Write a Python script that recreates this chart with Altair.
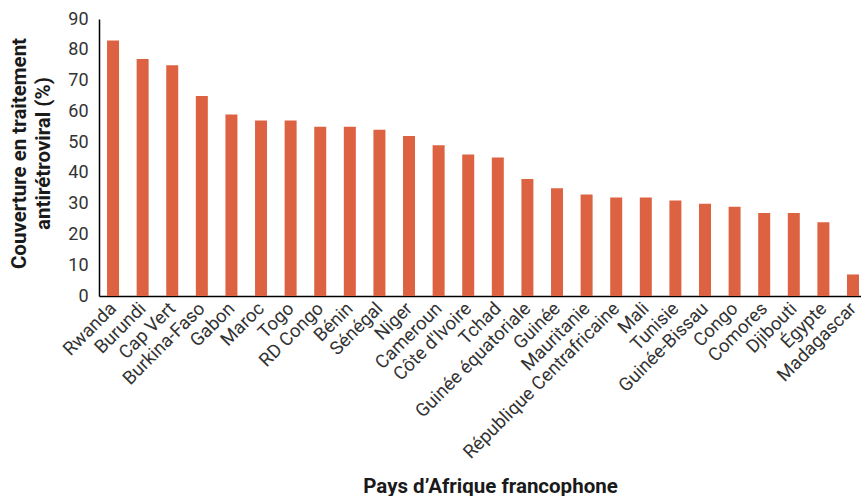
import altair as alt
import pandas as pd

# Antiretroviral treatment coverage by francophone African country
pays = [
    "Rwanda", "Burundi", "Cap Vert", "Burkina-Faso", "Gabon", "Maroc", "Togo",
    "RD Congo", "Bénin", "Sénégal", "Niger", "Cameroun", "Côte d'Ivoire",
    "Tchad", "Guinée équatoriale", "Guinée", "Mauritanie",
    "République Centrafricaine", "Mali", "Tunisie", "Guinée-Bissau", "Congo",
    "Comores", "Djibouti", "Égypte", "Madagascar",
]
couverture = [
    83, 77, 75, 65, 59, 57, 57, 55, 55, 54, 52, 49, 46,
    45, 38, 35, 33, 32, 32, 31, 30, 29, 27, 27, 24, 7,
]
y_ticks = [0, 10, 20, 30, 40, 50, 60, 70, 80, 90]

df = pd.DataFrame({"pays": pays, "couverture": couverture})

FONT = "Roboto"
BAR = "#DD6241"
INK = "#1a1a1a"
LABEL = "#333333"

bars = alt.Chart(df).mark_bar(color=BAR).encode(
    x=alt.X(
        "pays:N",
        sort=pays,
        scale=alt.Scale(paddingInner=0.595, paddingOuter=0.17, align=0.8),
        axis=alt.Axis(
            title="Pays d’Afrique francophone",
            titleFont=FONT,
            titleFontSize=20.5,
            titleFontWeight="bold",
            titleColor=INK,
            titleX=391,
            titleY=196,
            titleAnchor="middle",
            titleAlign="center",
            titleBaseline="alphabetic",
            labelAngle=315,
            labelAlign="right",
            labelBaseline="middle",
            labelFont=FONT,
            labelFontSize=18.5,
            labelColor=LABEL,
            labelPadding=9,
            labelOverlap=False,
            labelLimit=400,
            ticks=False,
            tickSize=0,
            domainColor="#000000",
            domainWidth=1.5,
            grid=False,
        ),
    ),
    y=alt.Y(
        "couverture:Q",
        scale=alt.Scale(domain=[0, 90], nice=False),
        axis=alt.Axis(
            title=["Couverture en traitement", "antirétroviral (%)"],
            titleFont=FONT,
            titleFontSize=20.5,
            titleFontWeight="bold",
            titleColor=INK,
            titleAngle=270,
            titleAlign="center",
            titleBaseline="alphabetic",
            titleLineHeight=24,
            titleX=-74,
            titleY=134,
            values=y_ticks,
            labelFont=FONT,
            labelFontSize=18,
            labelColor=LABEL,
            labelPadding=11,
            ticks=False,
            tickSize=0,
            domainColor="#000000",
            domainWidth=1.5,
            grid=False,
        ),
    ),
)

chart = bars.properties(
    width=762,
    height=277,
    autosize=alt.AutoSizeParams(type="none"),
    padding={"left": 99, "top": 19, "right": 0, "bottom": 200},
    background="#ffffff",
).configure_view(stroke=None)

chart.save("out.html", embed_options={"renderer": "svg", "actions": False})
